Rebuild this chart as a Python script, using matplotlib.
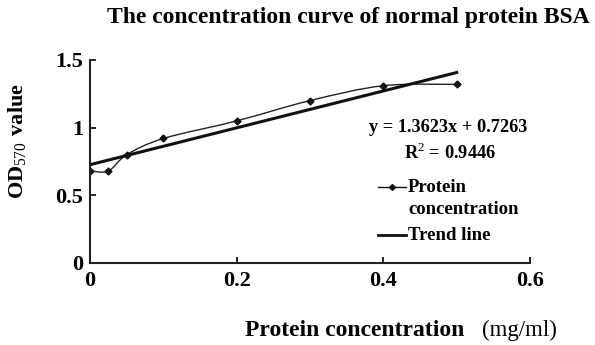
import numpy as np
import matplotlib.pyplot as plt
from matplotlib.path import Path
from matplotlib.patches import PathPatch

plt.rcParams['font.family'] = ['Liberation Serif', 'DejaVu Serif']
plt.rcParams['mathtext.fontset'] = 'custom'
plt.rcParams['mathtext.rm'] = 'Liberation Serif'
plt.rcParams['mathtext.bf'] = 'Liberation Serif:bold'

# measured OD570 values
conc = [0, 0.025, 0.05, 0.1, 0.2, 0.3, 0.4, 0.5]
od570 = [0.68, 0.68, 0.80, 0.92, 1.05, 1.20, 1.31, 1.32]

# trend line coefficients shown on the chart
slope = 1.3623
intercept = 0.7263
r2 = 0.9446

x_ticks = [0, 0.2, 0.4, 0.6]
y_ticks = [0, 0.5, 1, 1.5]
x_tick_labels = ['0', '0.2', '0.4', '0.6']
y_tick_labels = ['0', '0.5', '1', '1.5']

fig = plt.figure(figsize=(5.95, 3.45), dpi=100)
ax = fig.add_axes([0.1513, 0.2377, 0.7395, 0.5884])

# smoothed curve through the points (Catmull-Rom as cubic Bezier)
pts = np.column_stack([conc, od570])
ext = np.vstack([pts[0], pts, pts[-1]])
verts = [tuple(pts[0])]
codes = [Path.MOVETO]
for i in range(1, len(ext) - 2):
    p0, p1, p2, p3 = ext[i - 1], ext[i], ext[i + 1], ext[i + 2]
    c1 = p1 + (p2 - p0) / 6
    c2 = p2 - (p3 - p1) / 6
    verts += [tuple(c1), tuple(c2), tuple(p2)]
    codes += [Path.CURVE4] * 3
ax.add_patch(PathPatch(Path(verts, codes), fill=False, edgecolor='#222222', lw=1.0))
ax.plot(conc, od570, linestyle='none', marker='D', markersize=3.5, color='#111111')

trend_x = np.array([conc[0], conc[-1]])
ax.plot(trend_x, slope * trend_x + intercept, color='#111111', lw=2.2)

ax.set_xlim(0, 0.6)
ax.set_ylim(0, 1.5)
ax.set_xticks(x_ticks)
ax.set_xticklabels(x_tick_labels)
ax.set_yticks(y_ticks)
ax.set_yticklabels(y_tick_labels)
ax.tick_params(direction='in', length=4, width=1.2, labelsize=16)
ax.tick_params(axis='x', pad=6)
ax.tick_params(axis='y', pad=5)
for lab in ax.get_xticklabels() + ax.get_yticklabels():
    lab.set_fontweight('bold')
for s in ['top', 'right']:
    ax.spines[s].set_visible(False)
for s in ['left', 'bottom']:
    ax.spines[s].set_linewidth(1.5)
    ax.spines[s].set_color('#222222')

fig.text(0.586, 0.95, 'The concentration curve of normal protein BSA',
         ha='center', va='center', fontsize=17, fontweight='bold')
fig.text(0.029, 0.591, r'$\mathbf{OD}_{\mathrm{570}}$' + r'$\mathbf{\ value}$',
         rotation=90, ha='center', va='center', fontsize=16)
fig.text(245 / 595, 0.043, 'Protein concentration', ha='left', va='center',
         fontsize=17, fontweight='bold')
fig.text(482 / 595, 0.043, '(mg/ml)', ha='left', va='center', fontsize=16.5)

# legend drawn by hand to match layout (pixel coordinates)
leg_ax = fig.add_axes([0, 0, 1, 1], facecolor='none')
leg_ax.set_xlim(0, 595)
leg_ax.set_ylim(345, 0)
leg_ax.axis('off')

leg_ax.text(448, 127, 'y = %.4fx + %.4f' % (slope, intercept), ha='center',
            va='center', fontsize=13.2, fontweight='bold')
leg_ax.text(450, 153, 'R$^2$ = %.4f' % r2, ha='center', va='center',
            fontsize=13.2, fontweight='bold')

leg_ax.plot([378, 406], [187, 187], color='#111111', lw=1.0)
leg_ax.plot([392], [187], marker='D', markersize=3, color='#111111')
leg_ax.text(408, 187, 'Protein', ha='left', va='center', fontsize=13.5,
            fontweight='bold')
leg_ax.text(408, 209, 'concentration', ha='left', va='center', fontsize=13.5,
            fontweight='bold')
leg_ax.plot([378, 406], [235, 235], color='#111111', lw=2.0)
leg_ax.text(408, 235, 'Trend line', ha='left', va='center', fontsize=13.5,
            fontweight='bold')

fig.savefig('out.png', dpi=100)
